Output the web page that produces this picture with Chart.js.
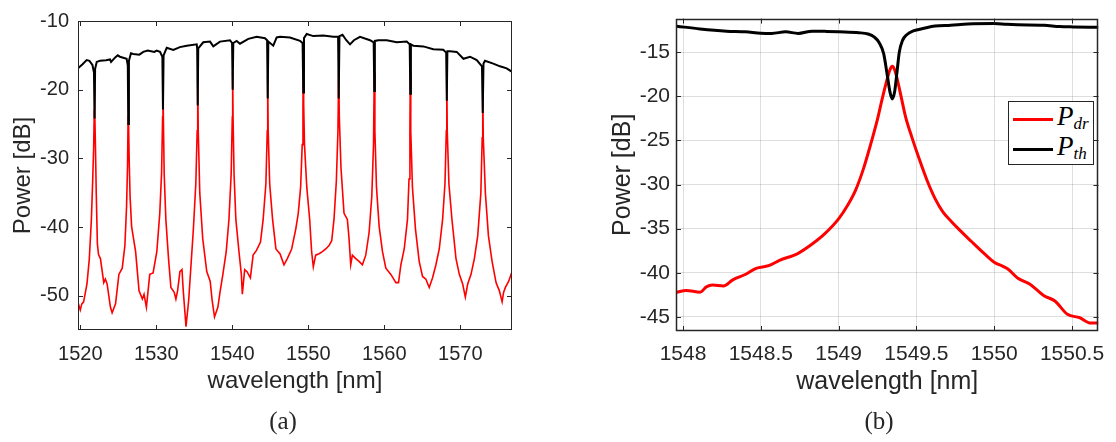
<!DOCTYPE html>
<html>
<head>
<title>Drop / through port spectra</title>
<style>
  body { margin: 0; background: #fff; }
  #wrap { position: relative; width: 1116px; height: 442px; }
  .box { position: absolute; top: 0; height: 442px; }
  .cap { position: absolute; font-family: 'Liberation Serif', 'DejaVu Serif', serif; font-size: 25px; color: #262626; transform: translate(-50%, -50%); }
  #legend { position: absolute; left: 1008px; top: 101px; width: 86px; height: 64px; border: 1px solid #262626; background: #fff; box-sizing: border-box; }
  #legend .row { position: absolute; left: 4px; height: 28px; }
  #legend .swatch { position: absolute; left: 0; top: 13px; width: 40px; height: 3px; }
  #legend .lab { position: absolute; left: 44px; top: -4px; font-family: 'Liberation Serif', 'DejaVu Serif', serif; font-style: italic; font-size: 27px; color: #000; white-space: nowrap; }
  #legend sub { font-size: 17px; vertical-align: -4px; }
</style>
</head>
<body>
<div id="wrap">
  <div class="box" style="left:0;width:560px"><canvas id="chartA"></canvas></div>
  <div class="box" style="left:590px;width:526px"><canvas id="chartB"></canvas></div>
  <div class="cap" style="left:283px;top:421px">(a)</div>
  <div class="cap" style="left:879px;top:421px">(b)</div>
  <div id="legend">
    <div class="row" style="top:3px"><div class="swatch" style="background:#ff0000"></div><div class="lab">P<sub>dr</sub></div></div>
    <div class="row" style="top:33px"><div class="swatch" style="background:#000"></div><div class="lab">P<sub>th</sub></div></div>
  </div>
</div>
<script src="https://cdn.jsdelivr.net/npm/chart.js"></script>
<script>
// ---- panel (a): full spectrum ----
const lamDropA = [1519.7, 1520.0, 1520.2, 1520.44, 1520.88, 1521.19, 1521.46, 1521.63, 1521.76, 1521.84, 1521.88, 1521.92, 1522.0, 1522.1, 1522.25, 1522.4, 1522.65, 1523.09, 1523.3, 1523.53, 1523.97, 1524.19, 1524.64, 1525.08, 1525.52, 1525.87, 1526.09, 1526.22, 1526.29, 1526.32, 1526.36, 1526.43, 1526.55, 1526.75, 1527.28, 1527.73, 1528.17, 1528.39, 1528.7, 1529.14, 1529.58, 1530.07, 1530.46, 1530.7, 1530.83, 1530.88, 1530.93, 1531.04, 1531.26, 1531.61, 1531.92, 1532.36, 1532.58, 1532.8, 1533.11, 1533.38, 1533.55, 1533.91, 1534.26, 1534.57, 1534.88, 1535.2, 1535.38, 1535.45, 1535.52, 1535.72, 1536.11, 1536.64, 1537.09, 1537.35, 1537.66, 1538.1, 1538.41, 1538.76, 1539.2, 1539.56, 1539.85, 1540.0, 1540.05, 1540.1, 1540.23, 1540.47, 1540.88, 1541.19, 1541.32, 1541.63, 1541.94, 1542.38, 1542.74, 1543.18, 1543.71, 1544.06, 1544.42, 1544.6, 1544.66, 1544.72, 1544.92, 1545.3, 1545.74, 1546.27, 1546.8, 1547.24, 1547.81, 1548.35, 1548.68, 1548.99, 1549.2, 1549.3, 1549.34, 1549.39, 1549.5, 1549.8, 1550.18, 1550.44, 1550.66, 1550.97, 1551.41, 1551.85, 1552.29, 1552.73, 1553.08, 1553.38, 1553.69, 1553.9, 1554.0, 1554.08, 1554.3, 1554.7, 1555.14, 1555.36, 1555.58, 1555.8, 1556.24, 1556.68, 1557.12, 1557.56, 1558.0, 1558.35, 1558.58, 1558.68, 1558.76, 1558.97, 1559.32, 1559.76, 1560.2, 1560.86, 1561.52, 1561.87, 1562.18, 1562.62, 1563.05, 1563.25, 1563.37, 1563.42, 1563.48, 1563.7, 1564.1, 1564.59, 1565.03, 1565.47, 1565.91, 1566.35, 1566.79, 1567.23, 1567.67, 1567.98, 1568.16, 1568.22, 1568.28, 1568.5, 1568.9, 1569.43, 1569.87, 1570.31, 1570.66, 1570.97, 1571.41, 1571.85, 1572.29, 1572.7, 1572.88, 1572.95, 1573.02, 1573.3, 1573.7, 1574.18, 1574.7, 1575.14, 1575.5, 1575.7, 1575.93, 1576.37, 1576.8];
const pDropA = [-51.0, -52.1, -51.2, -50.9, -48.3, -44.6, -38.9, -33.3, -28.5, -23.0, -19.5, -23.0, -28.5, -35.0, -42.5, -44.0, -44.6, -48.1, -47.6, -48.3, -51.7, -52.5, -51.2, -46.9, -46.0, -42.7, -37.0, -31.0, -24.0, -19.0, -24.0, -30.0, -35.5, -39.9, -43.6, -49.3, -50.5, -49.8, -51.7, -46.9, -46.7, -43.6, -38.0, -32.0, -24.0, -18.0, -24.0, -32.3, -38.9, -44.6, -48.8, -49.5, -50.5, -49.3, -46.5, -46.2, -49.3, -54.5, -50.7, -45.5, -40.3, -33.7, -26.0, -18.0, -26.0, -35.0, -41.7, -46.5, -47.9, -50.7, -53.1, -51.7, -49.3, -46.9, -43.6, -38.9, -32.3, -24.0, -17.5, -24.0, -32.3, -38.9, -43.6, -46.9, -49.8, -46.2, -46.5, -47.4, -44.1, -43.4, -42.2, -38.9, -33.7, -26.0, -18.0, -26.0, -33.7, -38.9, -43.2, -43.9, -45.5, -44.6, -43.2, -40.3, -38.0, -34.2, -28.0, -22.0, -16.7, -22.0, -28.0, -34.2, -38.9, -43.6, -45.8, -44.1, -43.9, -43.6, -43.2, -42.7, -42.0, -38.9, -33.3, -26.0, -17.1, -24.0, -31.4, -38.0, -38.9, -41.7, -45.5, -44.1, -44.6, -45.0, -45.5, -44.1, -40.8, -35.6, -28.0, -17.5, -26.0, -34.2, -39.9, -43.6, -46.0, -46.9, -48.1, -48.1, -45.5, -43.2, -38.9, -33.0, -26.0, -17.5, -26.0, -34.2, -40.3, -45.0, -47.2, -47.6, -48.8, -47.4, -45.5, -43.2, -38.9, -33.7, -26.0, -18.0, -26.0, -33.7, -38.9, -44.6, -46.9, -48.3, -50.2, -48.3, -46.9, -44.6, -41.3, -35.1, -27.0, -19.0, -27.0, -35.1, -41.3, -45.0, -48.1, -49.3, -50.9, -49.5, -48.8, -47.9, -46.5];

const lamThruA = [1519.7, 1520.3, 1520.84, 1521.2, 1521.6, 1521.8, 1521.88, 1521.95, 1522.16, 1522.59, 1523.38, 1523.91, 1524.05, 1524.6, 1524.92, 1525.22, 1526.1, 1526.25, 1526.32, 1526.4, 1526.67, 1526.97, 1527.77, 1528.29, 1528.87, 1529.74, 1530.05, 1530.49, 1530.8, 1530.88, 1530.96, 1531.37, 1532.24, 1533.1, 1534.0, 1535.32, 1535.38, 1535.45, 1535.52, 1536.18, 1537.07, 1537.5, 1538.38, 1539.7, 1539.97, 1540.05, 1540.13, 1540.58, 1541.01, 1542.11, 1543.21, 1544.3, 1544.58, 1544.66, 1544.74, 1545.39, 1545.84, 1546.28, 1547.59, 1548.91, 1549.25, 1549.34, 1549.43, 1549.79, 1550.66, 1551.97, 1553.29, 1553.92, 1554.0, 1554.1, 1554.5, 1555.0, 1555.49, 1556.0, 1556.8, 1558.12, 1558.6, 1558.68, 1558.76, 1559.21, 1560.32, 1561.63, 1562.95, 1563.34, 1563.42, 1563.5, 1563.82, 1565.13, 1566.45, 1567.76, 1568.14, 1568.22, 1568.3, 1568.64, 1569.53, 1570.41, 1571.28, 1572.16, 1572.85, 1572.95, 1573.05, 1573.25, 1574.34, 1575.22, 1576.1, 1576.8];
const pThruA = [-16.9, -16.3, -15.7, -15.8, -16.4, -17.5, -24.2, -17.0, -15.96, -15.8, -15.7, -15.6, -15.96, -15.3, -15.0, -15.2, -15.5, -16.5, -25.0, -15.8, -14.7, -14.8, -14.9, -14.5, -14.3, -14.5, -14.3, -14.5, -15.2, -22.9, -15.0, -13.9, -14.2, -13.8, -13.6, -13.4, -14.0, -22.3, -14.0, -13.1, -13.0, -13.7, -13.0, -12.8, -13.2, -20.0, -13.2, -12.9, -13.3, -12.6, -12.3, -12.5, -12.8, -21.3, -13.0, -13.6, -12.4, -12.3, -12.4, -12.9, -13.2, -20.4, -12.5, -11.9, -12.2, -12.1, -12.3, -12.3, -21.3, -12.2, -12.0, -12.8, -13.4, -12.8, -12.3, -12.8, -13.1, -20.2, -12.9, -12.8, -12.8, -13.1, -13.0, -13.4, -20.6, -13.4, -13.6, -13.7, -14.1, -14.2, -14.6, -21.6, -14.4, -14.4, -14.5, -15.5, -15.2, -15.7, -16.6, -23.4, -16.2, -15.8, -16.2, -16.6, -16.9, -17.4];

const xTicksA = [1520, 1530, 1540, 1550, 1560, 1570];
const yTicksA = [-50, -40, -30, -20, -10];

// ---- panel (b): one resonance ----
const lamDropB = [1547.96, 1548.02, 1548.11, 1548.15, 1548.19, 1548.26, 1548.32, 1548.4, 1548.47, 1548.55, 1548.62, 1548.74, 1548.83, 1548.91, 1549.0, 1549.06, 1549.11, 1549.16, 1549.21, 1549.25, 1549.28, 1549.31, 1549.33, 1549.345, 1549.36, 1549.38, 1549.4, 1549.43, 1549.47, 1549.52, 1549.57, 1549.62, 1549.67, 1549.72, 1549.78, 1549.85, 1549.94, 1550.0, 1550.06, 1550.09, 1550.15, 1550.23, 1550.32, 1550.39, 1550.47, 1550.55, 1550.62, 1550.67];
const pDropB = [-42.2, -42.0, -42.2, -41.6, -41.4, -41.5, -40.8, -40.2, -39.5, -39.2, -38.6, -37.8, -36.75, -35.6, -33.9, -32.3, -30.6, -28.2, -25.2, -22.6, -20.3, -18.2, -17.0, -16.6, -17.0, -18.3, -19.9, -22.3, -24.6, -27.2, -29.6, -31.6, -33.1, -34.1, -35.2, -36.4, -37.9, -38.8, -39.3, -39.6, -40.6, -41.3, -42.6, -43.2, -44.7, -45.1, -45.7, -45.7];

const lamThruB = [1547.96, 1548.11, 1548.28, 1548.4, 1548.5, 1548.57, 1548.66, 1548.74, 1548.83, 1548.92, 1549.0, 1549.13, 1549.19, 1549.23, 1549.26, 1549.29, 1549.31, 1549.33, 1549.345, 1549.36, 1549.375, 1549.39, 1549.41, 1549.44, 1549.48, 1549.55, 1549.62, 1549.72, 1549.83, 1550.0, 1550.08, 1550.15, 1550.32, 1550.42, 1550.51, 1550.67];
const pThruB = [-12.06, -12.37, -12.62, -12.7, -12.85, -12.88, -12.7, -12.88, -12.62, -12.65, -12.7, -12.8, -12.95, -13.3, -13.9, -15.2, -17.3, -19.5, -20.3, -19.5, -17.3, -15.0, -13.7, -13.0, -12.6, -12.3, -12.05, -11.95, -11.8, -11.75, -11.85, -11.9, -11.95, -12.1, -12.14, -12.18];

const xTicksB = [1548, 1548.5, 1549, 1549.5, 1550, 1550.5];
const yTicksB = [-45, -40, -35, -30, -25, -20, -15];

const pts = (xs, ys) => xs.map((x, i) => ({x: x, y: ys[i]}));
const textColor = '#262626';
const sans = "'Liberation Sans', Arial, Helvetica, sans-serif";

// MATLAB-style box with inward ticks on all four sides
const boxTicks = {
  id: 'boxTicks',
  afterDatasetsDraw(chart, args, opts) {
    const {ctx, chartArea: a, scales: {x, y}} = chart;
    const len = opts.len || 5;
    ctx.save();
    ctx.strokeStyle = opts.color || textColor;
    ctx.lineWidth = 1;
    ctx.beginPath();
    x.ticks.forEach(t => {
      const px = Math.round(x.getPixelForValue(t.value)) + 0.5;
      ctx.moveTo(px, a.bottom); ctx.lineTo(px, a.bottom - len);
      ctx.moveTo(px, a.top); ctx.lineTo(px, a.top + len);
    });
    y.ticks.forEach(t => {
      const py = Math.round(y.getPixelForValue(t.value)) + 0.5;
      ctx.moveTo(a.left, py); ctx.lineTo(a.left + len, py);
      ctx.moveTo(a.right, py); ctx.lineTo(a.right - len, py);
    });
    ctx.stroke();
    ctx.lineWidth = opts.width || 1;
    ctx.strokeRect(Math.round(a.left) + 0.5, Math.round(a.top) + 0.5, Math.round(a.width) - 1, Math.round(a.height) - 1);
    ctx.restore();
  }
};

function makeChart(id, cfg) {
  return new Chart(document.getElementById(id), {
    type: 'line',
    data: {
      datasets: [
        { label: 'P_th', data: pts(cfg.lamThru, cfg.pThru), borderColor: '#000000', borderWidth: cfg.lwThru, pointRadius: 0, cubicInterpolationMode: cfg.interp },
        { label: 'P_dr', data: pts(cfg.lamDrop, cfg.pDrop), borderColor: '#ff0000', borderWidth: cfg.lwDrop, pointRadius: 0, cubicInterpolationMode: cfg.interp }
      ]
    },
    options: {
      responsive: true,
      maintainAspectRatio: false,
      animation: false,
      layout: { padding: cfg.pad },
      plugins: { legend: { display: false }, tooltip: { enabled: false }, boxTicks: { len: cfg.tickLen, width: cfg.boxWidth } },
      scales: {
        x: {
          type: 'linear', min: cfg.xMin, max: cfg.xMax,
          afterBuildTicks: s => { s.ticks = cfg.xTicks.map(v => ({value: v})); },
          afterFit: s => { s.height = cfg.xHeight; },
          border: { display: false },
          grid: { display: cfg.grid, drawTicks: false, color: 'rgba(0,0,0,0.13)' },
          ticks: { padding: cfg.xPad, color: textColor, font: { family: sans, size: cfg.tickSize }, maxRotation: 0, callback: v => String(v) },
          title: { display: true, text: 'wavelength [nm]', color: textColor, font: { family: sans, size: cfg.titleSize }, padding: 0 }
        },
        y: {
          type: 'linear', min: cfg.yMin, max: cfg.yMax,
          afterBuildTicks: s => { s.ticks = cfg.yTicks.map(v => ({value: v})); },
          afterFit: s => { s.width = cfg.yWidth; },
          border: { display: false },
          grid: { display: cfg.grid, drawTicks: false, color: 'rgba(0,0,0,0.13)' },
          ticks: { padding: cfg.yPad, color: textColor, font: { family: sans, size: cfg.tickSize }, callback: v => String(v) },
          title: { display: true, text: 'Power [dB]', color: textColor, font: { family: sans, size: cfg.titleSize }, padding: cfg.yTitlePad }
        }
      }
    },
    plugins: [boxTicks]
  });
}

makeChart('chartA', {
  lamDrop: lamDropA, pDrop: pDropA, lamThru: lamThruA, pThru: pThruA,
  xTicks: xTicksA, yTicks: yTicksA,
  xMin: 1519.7, xMax: 1576.8, yMin: -55, yMax: -10,
  lwDrop: 1.6, lwThru: 2, interp: 'default', grid: false, tickLen: 5, boxWidth: 1,
  pad: { left: 0, right: 48, top: 13, bottom: 46 },
  xHeight: 66, yWidth: 78, xPad: 12, yPad: 9, yTitlePad: 9,
  tickSize: 20, titleSize: 24
});

makeChart('chartB', {
  lamDrop: lamDropB, pDrop: pDropB, lamThru: lamThruB, pThru: pThruB,
  xTicks: xTicksB, yTicks: yTicksB,
  xMin: 1547.955, xMax: 1550.67, yMin: -46.6, yMax: -11.2,
  lwDrop: 3, lwThru: 3, interp: 'monotone', grid: true, tickLen: 5, boxWidth: 1.5,
  pad: { left: 0, right: 14, top: 17, bottom: 45 },
  xHeight: 66, yWidth: 86, xPad: 11, yPad: 6, yTitlePad: 18,
  tickSize: 21, titleSize: 25
});
</script>
</body>
</html>
